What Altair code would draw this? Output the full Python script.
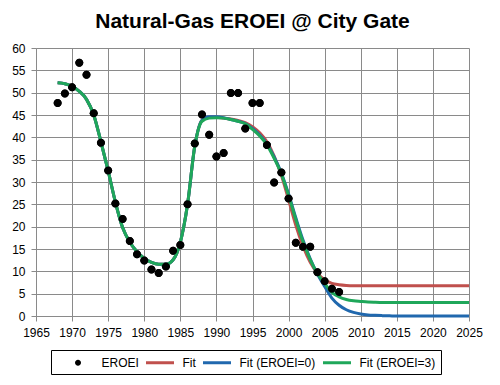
import altair as alt
import pandas as pd

# Observed EROEI (annual)
obs_years = list(range(1968, 2008))
eroei = [47.7, 49.8, 51.2, 56.7, 54.0, 45.4, 38.8, 32.6, 25.2, 21.7,
         16.8, 13.8, 12.4, 10.4, 9.6, 11.1, 14.6, 15.9, 25.0, 38.6,
         45.1, 40.6, 35.7, 36.5, 49.9, 49.9, 42.0, 47.7, 47.7, 38.3,
         29.9, 32.1, 26.3, 16.4, 15.5, 15.5, 9.8, 7.8, 6.1, 5.4]

fit_years = list(range(1968, 2026))
common = [52.2, 52.0, 51.4, 50.3, 48.5, 45.0, 39.0, 32.5, 25.5, 19.8,
          16.5, 14.4, 12.9, 12.0, 11.6, 11.6, 12.6, 16.5, 25.0, 38.0]  # 1968-1987
fit = common + [43.8, 44.5, 44.5, 44.3, 44.1, 43.8, 43.3, 42.4, 41.0, 39.0,
                35.8, 31.5, 26.0, 20.3, 15.6, 12.0, 9.6, 8.1, 7.3, 7.0,
                6.85, 6.8, 6.8, 6.8, 6.8, 6.8, 6.8, 6.8, 6.8, 6.8,
                6.8, 6.8, 6.8, 6.8, 6.8, 6.8, 6.8, 6.8]
fit0 = common + [43.8, 44.6, 44.6, 44.4, 44.0, 43.6, 43.1, 42.0, 40.5, 38.5,
                 35.6, 32.0, 27.3, 22.0, 17.0, 12.8, 9.4, 6.6, 4.0, 2.4,
                 1.4, 0.8, 0.45, 0.25, 0.15, 0.08, 0.04, 0.0, 0.0, 0.0,
                 0.0, 0.0, 0.0, 0.0, 0.0, 0.0, 0.0, 0.0]
fit3 = common + [43.6, 44.3, 44.4, 44.3, 44.0, 43.6, 43.0, 41.8, 40.3, 38.3,
                 35.3, 31.8, 27.0, 21.6, 16.6, 12.6, 9.5, 7.3, 5.3, 4.3,
                 3.7, 3.4, 3.25, 3.12, 3.06, 3.02, 3.0, 3.0, 3.0, 3.0,
                 3.0, 3.0, 3.0, 3.0, 3.0, 3.0, 3.0, 3.0]

series_names = ["EROEI", "Fit", "Fit (EROEI=0)", "Fit (EROEI=3)"]
series_colors = ["#000000", "#C0504D", "#2068AE", "#1FA75A"]
x_ticks = list(range(1965, 2030, 5))
y_ticks = list(range(0, 65, 5))

DOT = "M-0.4,0A0.4,0.4 0 1,1 0.4,0A0.4,0.4 0 1,1 -0.4,0Z"
BAR = "M-1.733,-0.2L2,-0.2L2,0.2L-1.733,0.2Z"
series_shapes = [DOT, BAR, BAR, BAR]

pts = pd.DataFrame({"year": obs_years, "value": eroei, "series": "EROEI"})
df_fit = pd.DataFrame({"year": fit_years, "value": fit, "series": "Fit"})
df_fit0 = pd.DataFrame({"year": fit_years, "value": fit0, "series": "Fit (EROEI=0)"})
df_fit3 = pd.DataFrame({"year": fit_years, "value": fit3, "series": "Fit (EROEI=3)"})

legend = alt.Legend(
    title=" ", titleOrient="left", titlePadding=9,
    orient="none", direction="horizontal", legendX=15, legendY=302,
    strokeColor="black", padding=5, columnPadding=7, labelOffset=16,
    symbolSize=225, symbolOffset=5.5, symbolStrokeWidth=0, symbolOpacity=1,
    labelFont="Liberation Sans", labelFontSize=12, labelColor="black",
)

color = alt.Color("series:N", scale=alt.Scale(domain=series_names, range=series_colors), legend=legend)
shape = alt.Shape("series:N", scale=alt.Scale(domain=series_names, range=series_shapes), legend=legend)
x = alt.X("year:Q", scale=alt.Scale(domain=[1965, 2025], nice=False, zero=False),
          axis=alt.Axis(values=x_ticks, format="d", title=None, labelPadding=6,
                        labelOverlap=False, labelFlush=False))
y = alt.Y("value:Q", scale=alt.Scale(domain=[0, 60], nice=False),
          axis=alt.Axis(values=y_ticks, title=None, labelPadding=6,
                        labelOverlap=False, labelFlush=False))

def line_layer(df):
    return alt.Chart(df).mark_line(strokeWidth=3, interpolate="monotone").encode(x=x, y=y, color=color)

points = alt.Chart(pts).mark_point(filled=True, size=400, opacity=1, strokeWidth=0).encode(
    x=x, y=y, color=color, shape=shape)

chart = alt.layer(
    points, line_layer(df_fit), line_layer(df_fit0), line_layer(df_fit3), points
).properties(
    width=433, height=268,
    autosize="none",
    background="white",
    padding={"left": 28, "top": 40, "right": 20, "bottom": 65},
    title=alt.Title("Natural-Gas EROEI @ City Gate", font="Liberation Sans", fontSize=21,
                    fontWeight="bold", color="black", anchor="middle", offset=10),
).configure_view(stroke=None).configure_axis(
    grid=True, gridColor="#8a8a8a", gridWidth=1, domainColor="#8a8a8a",
    tickColor="#8a8a8a", tickSize=5, labelFont="Liberation Sans", labelFontSize=12,
    labelColor="black",
)

chart.save("out.html", embed_options={"renderer": "svg", "actions": False})
